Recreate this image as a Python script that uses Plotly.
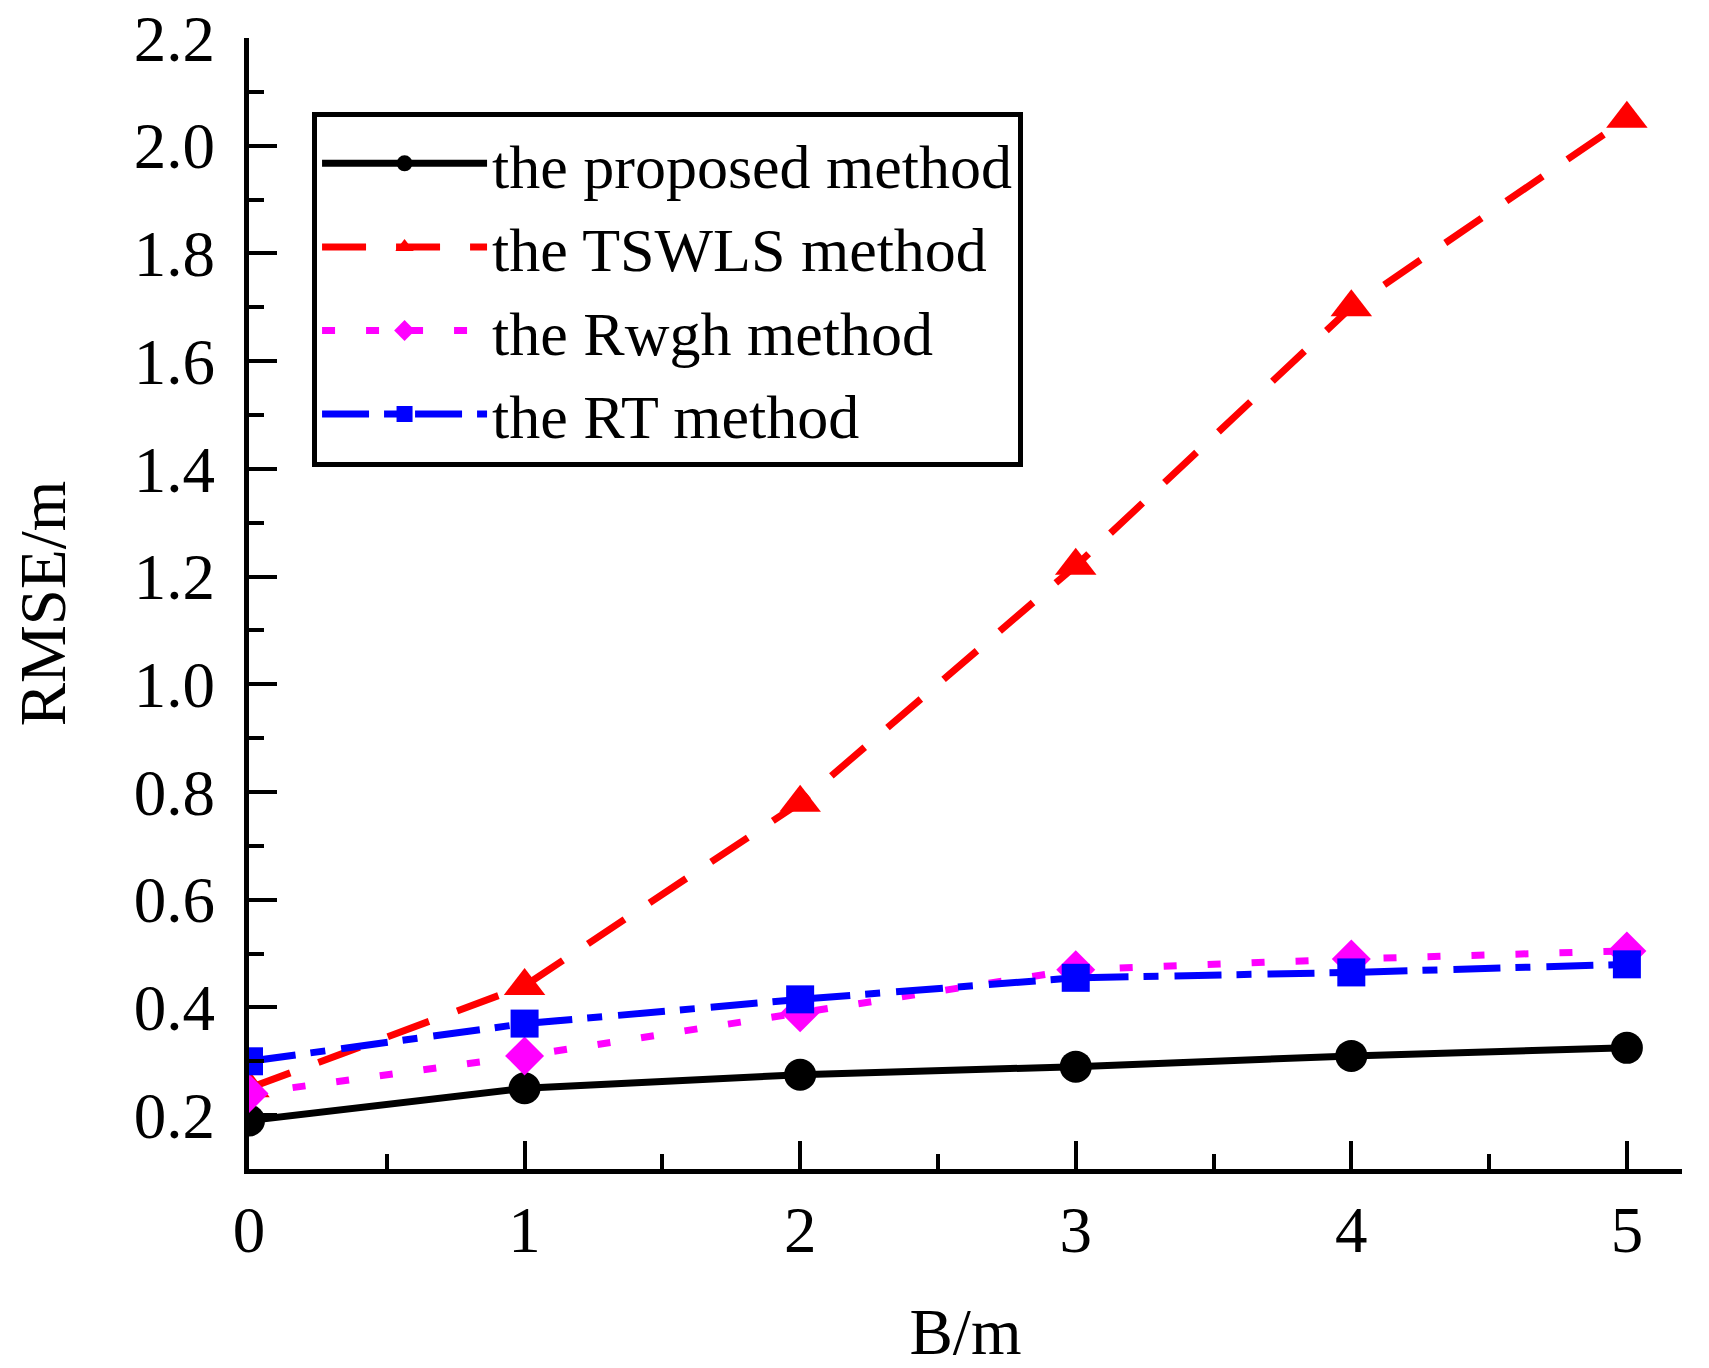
import plotly.graph_objects as go

# ---- data ----
B = [0, 1, 2, 3, 4, 5]
proposed = [0.19, 0.25, 0.275, 0.29, 0.31, 0.325]
tswls = [0.25, 0.44, 0.78, 1.22, 1.70, 2.05]
rwgh = [0.24, 0.31, 0.39, 0.47, 0.49, 0.505]
rt = [0.30, 0.37, 0.415, 0.455, 0.465, 0.48]
names = ["the proposed method", "the TSWLS method", "the Rwgh method", "the RT method"]

FONT = "Liberation Serif, Times New Roman, serif"

fig = go.Figure()
fig.add_trace(go.Scatter(x=B, y=proposed, name=names[0], mode="lines+markers",
                         line=dict(color="#000000", width=7, dash="solid"),
                         marker=dict(symbol="circle", size=32, color="#000000")))
fig.add_trace(go.Scatter(x=B, y=tswls, name=names[1], mode="lines+markers",
                         line=dict(color="#FF0000", width=7, dash="44px,30px"),
                         marker=dict(symbol="triangle-up", size=36, color="#FF0000")))
fig.add_trace(go.Scatter(x=B, y=rwgh, name=names[2], mode="lines+markers",
                         line=dict(color="#FF00FF", width=7, dash="13px,31px"),
                         marker=dict(symbol="diamond", size=30, color="#FF00FF")))
fig.add_trace(go.Scatter(x=B, y=rt, name=names[3], mode="lines+markers",
                         line=dict(color="#0000FF", width=7, dash="47px,15px,15px,16px"),
                         marker=dict(symbol="square", size=28, color="#0000FF")))

axis_common = dict(
    showline=True, linecolor="#000000", linewidth=5, mirror=False,
    showgrid=False, zeroline=False, automargin=False,
    ticks="inside", ticklen=28, tickwidth=4, tickcolor="#000000",
    tickfont=dict(family=FONT, size=65, color="#000000"),
    ticklabeloverflow="allow",
)

fig.update_xaxes(
    range=[0, 5.2], tick0=0, dtick=1,
    minor=dict(ticks="inside", ticklen=15, tickwidth=4, tickcolor="#000000", dtick=0.5, showgrid=False),
    title=dict(text="B/m", font=dict(family=FONT, size=65, color="#000000"), standoff=61),
    ticklabelstandoff=0,
    **axis_common,
)
fig.update_yaxes(
    range=[0.1, 2.2], tick0=0.2, dtick=0.2, tickformat=".1f",
    minor=dict(ticks="inside", ticklen=15, tickwidth=4, tickcolor="#000000", dtick=0.1, showgrid=False),
    title=dict(text="RMSE/m", font=dict(family=FONT, size=65, color="#000000"), standoff=49),
    ticklabelstandoff=16,
    **axis_common,
)

fig.update_layout(
    width=1709, height=1368,
    margin=dict(l=249, r=27, t=38, b=199),
    paper_bgcolor="#FFFFFF", plot_bgcolor="#FFFFFF",
    font=dict(family=FONT, size=62, color="#000000"),
    showlegend=True,
    legend=dict(
        x=0.044, y=0.935, xanchor="left", yanchor="top",
        bgcolor="#FFFFFF", bordercolor="#000000", borderwidth=5,
        font=dict(family=FONT, size=62, color="#000000"),
        tracegroupgap=0, itemwidth=165,
    ),
)

fig.write_html("out.html", config={"displayModeBar": False},
               post_script="document.body.style.margin='0';document.body.style.overflow='hidden';")
